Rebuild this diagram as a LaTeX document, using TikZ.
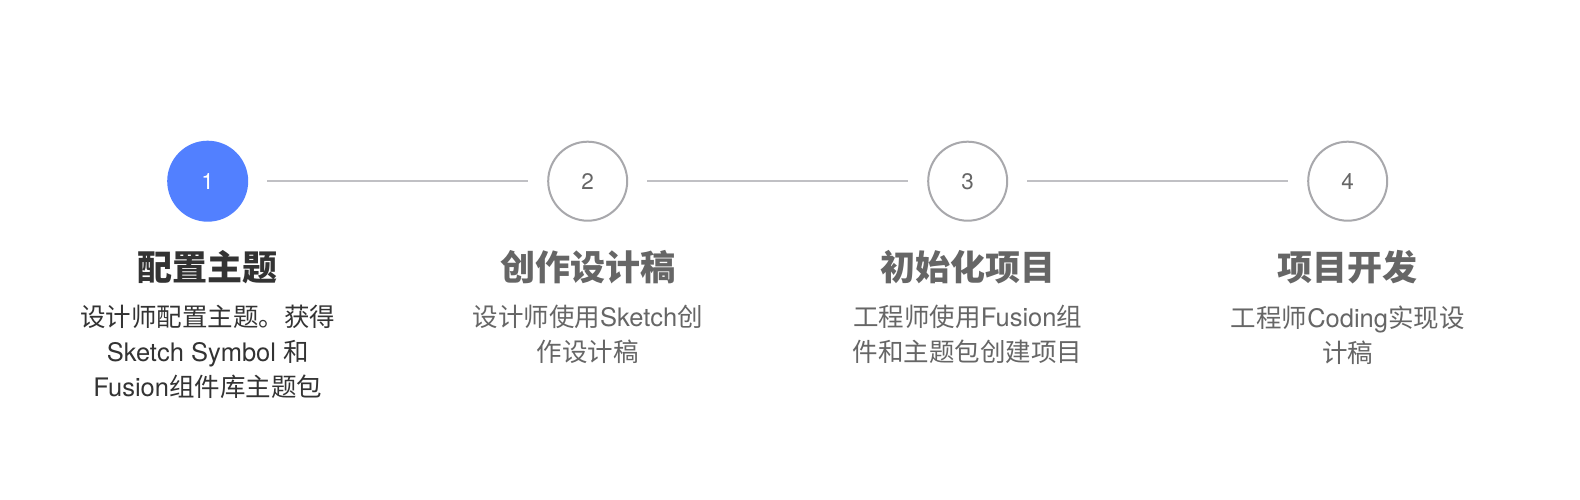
\documentclass[tikz,border=0pt]{standalone}
\usepackage{fontspec}
\setmainfont{TeX Gyre Heros}
\newfontfamily\cjk{Noto Sans CJK SC}
\newcommand\zh[1]{{\cjk #1}}
\definecolor{stepblue}{RGB}{82,128,255}
\definecolor{ringgray}{RGB}{168,168,172}
\definecolor{linegray}{RGB}{192,192,196}
\definecolor{darktext}{RGB}{51,51,51}
\definecolor{graytext}{RGB}{102,102,102}
\begin{document}
\begin{tikzpicture}[x=1pt,y=-1pt,
  ring/.style={circle, minimum size=79pt, inner sep=0pt, outer sep=0pt, line width=2pt,
    font=\fontsize{22.5}{26}\selectfont},
  stepdone/.style={ring, fill=stepblue, draw=stepblue, text=white},
  steptodo/.style={ring, draw=ringgray, fill=white, text=graytext},
  conn/.style={draw=linegray, line width=2.2pt, shorten <=20pt, shorten >=20pt},
  ttl/.style={inner sep=0pt, font=\cjk\bfseries\fontsize{35}{40}\selectfont},
  desc/.style={inner sep=0pt, anchor=north, align=center, font=\fontsize{25.5}{35}\selectfont}
]
\fill[white] (0,0) rectangle (1580,500);
\node[stepdone] (c1) at (207.7,181.2) {1};
\node[steptodo] (c2) at (587.7,181.2) {2};
\node[steptodo] (c3) at (967.7,181.2) {3};
\node[steptodo] (c4) at (1347.7,181.2) {4};
\draw[conn] (c1) -- (c2);
\draw[conn] (c2) -- (c3);
\draw[conn] (c3) -- (c4);
\node[ttl, text=darktext] (t1) at (207.7,267) {配置主题};
\node[ttl, text=graytext] (t2) at (587.7,267) {创作设计稿};
\node[ttl, text=graytext] (t3) at (967.7,267) {初始化项目};
\node[ttl, text=graytext] (t4) at (1347.7,267) {项目开发};
\node[desc, text=darktext] (d1) at (207.7,305.3) {\zh{设计师配置主题。获得}\\Sketch Symbol \zh{和}\\Fusion\zh{组件库主题包}};
\node[desc, text=graytext] (d2) at (587.7,305.3) {\zh{设计师使用}Sketch\zh{创}\\\zh{作设计稿}};
\node[desc, text=graytext] (d3) at (967.7,305.3) {\zh{工程师使用}Fusion\zh{组}\\\zh{件和主题包创建项目}};
\node[desc, text=graytext] (d4) at (1347.7,305.3) {\zh{工程师}Coding\zh{实现设}\\\zh{计稿}};
\end{tikzpicture}
\end{document}
